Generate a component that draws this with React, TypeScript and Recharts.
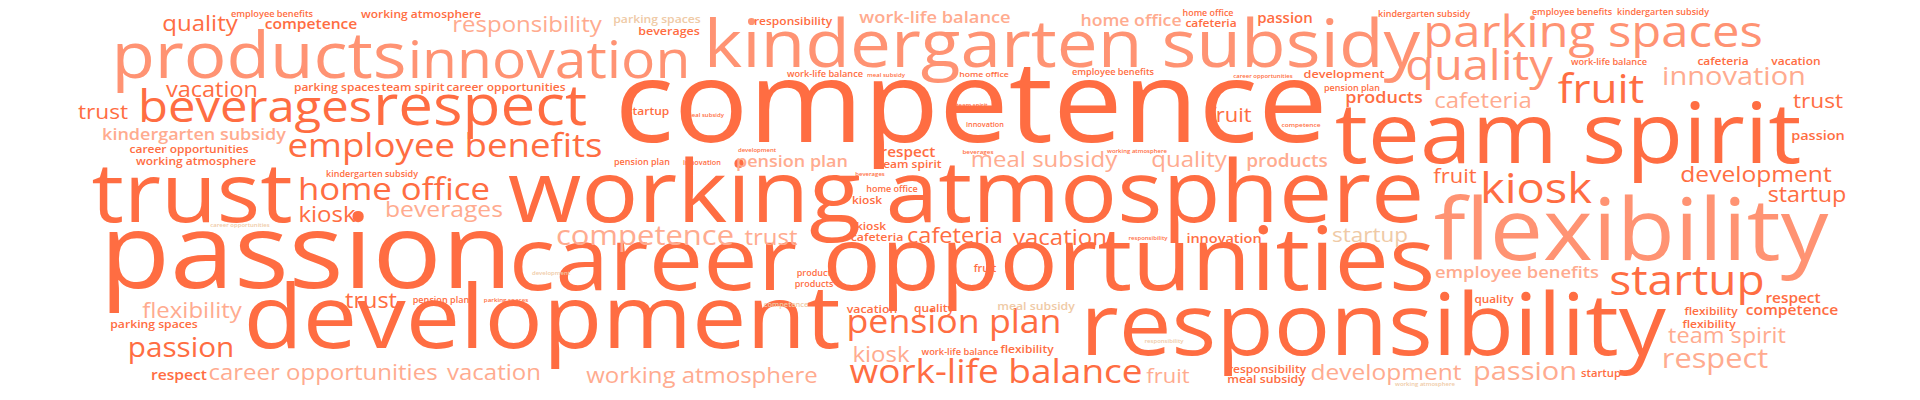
import React from "react";
import { Scatter, ScatterChart, XAxis, YAxis } from "recharts";

// [term, x, y, weight, shade]  x/y are cloud coordinates (px), weight = font size
type Term = [string, number, number, number, number];

const SHADES = ["#ff6d42", "#ff9373", "#ffab8f", "#efcaa6"];
// the original face is wider than Open Sans, so glyphs are widened a little
const STRETCH = 1.1;

const bigTerms: Term[] = [
  ["competence", 971, 142, 124, 0],
  ["passion", 306, 288, 115, 0],
  ["working atmosphere", 966, 222, 95, 0],
  ["career opportunities", 972, 290, 97, 0],
  ["development", 542, 348, 97, 0],
  ["responsibility", 1373, 355, 94, 0],
  ["team spirit", 1568, 163, 93, 0],
  ["flexibility", 1631, 260, 95, 1],
  ["trust", 192, 222, 91, 0],
  ["kindergarten subsidy", 1062, 67, 73, 1],
  ["products", 259, 78, 71, 1],
  ["innovation", 549, 78, 57, 1],
  ["respect", 480, 125, 62, 0],
  ["beverages", 255, 122, 49, 0],
  ["parking spaces", 1593, 47, 49, 1],
  ["quality", 1479, 80, 47, 1],
  ["kiosk", 1536, 203, 47, 0],
  ["startup", 1687, 295, 46, 0],
  ["fruit", 1601, 103, 44, 0],
];

const midTerms: Term[] = [
  ["employee benefits", 445, 157, 36.6, 0],
  ["work-life balance", 996, 383, 37, 0],
  ["pension plan", 954, 333, 35.7, 0],
  ["home office", 394, 200, 34.7, 0],
  ["competence", 645, 245, 31, 2],
  ["trust", 771, 245, 24, 2],
  ["respect", 1715, 368, 30.8, 2],
  ["passion", 181, 357, 29.7, 0],
  ["passion", 1525, 380, 29, 2],
  ["innovation", 1734, 85, 29, 2],
  ["vacation", 212, 97, 23.5, 0],
  ["quality", 200, 31, 24, 0],
  ["responsibility", 527, 32, 24, 2],
  ["cafeteria", 1483, 108, 24, 2],
  ["meal subsidy", 1044, 167, 24, 2],
  ["quality", 1189, 167, 24, 2],
  ["beverages", 444, 217, 24.7, 2],
  ["kiosk", 327, 222, 24, 0],
  ["cafeteria", 955, 243, 23.6, 0],
  ["vacation", 1060, 245, 24, 0],
  ["flexibility", 192, 318, 24, 2],
  ["trust", 371, 308, 23.5, 0],
  ["kiosk", 881, 362, 24, 2],
  ["working atmosphere", 702, 383, 24, 2],
  ["vacation", 494, 380, 24, 2],
  ["career opportunities", 323, 380, 24, 2],
  ["development", 1386, 380, 24.5, 2],
  ["team spirit", 1727, 343, 23.5, 2],
  ["startup", 1370, 242, 22.5, 3],
  ["fruit", 1168, 383, 22, 2],
  ["fruit", 1230, 122, 22, 0],
  ["fruit", 1455, 183, 22, 0],
  ["trust", 103, 119, 22.7, 0],
  ["trust", 1818, 108, 22.7, 0],
  ["development", 1756, 182, 24.6, 0],
  ["startup", 1807, 202, 23.3, 0],
  ["kindergarten subsidy", 194, 140, 18, 2],
  ["employee benefits", 1517, 278, 18.4, 2],
  ["pension plan", 792, 167, 18, 2],
  ["work-life balance", 935, 23, 18.3, 2],
  ["home office", 1131, 26, 17.7, 2],
  ["products", 1384, 103, 18, 0],
  ["products", 1287, 167, 19, 2],
];

const smallTerms: Term[] = [
  ["competence", 311, 29, 15.6, 0],
  ["respect", 908, 157, 15.3, 0],
  ["respect", 179, 380, 15.6, 0],
  ["passion", 1285, 23, 15, 0],
  ["innovation", 1224, 243, 14.5, 0],
  ["passion", 1818, 140, 14.5, 0],
  ["respect", 1793, 303, 15.4, 0],
  ["competence", 1792, 315, 15.6, 0],
  ["development", 1344, 78, 12.7, 0],
  ["working atmosphere", 421, 18, 12, 0],
  ["beverages", 669, 35, 12.5, 0],
  ["responsibility", 793, 25, 12, 0],
  ["cafeteria", 1211, 27, 12, 0],
  ["parking spaces", 657, 23, 12.2, 3],
  ["parking spaces", 337, 91, 12, 0],
  ["team spirit", 413, 91, 12, 0],
  ["career opportunities", 506, 91, 12, 0],
  ["career opportunities", 189, 153, 12, 0],
  ["working atmosphere", 196, 165, 12, 0],
  ["startup", 648, 115, 12, 0],
  ["team spirit", 910, 168, 12, 0],
  ["kiosk", 867, 204, 12, 0],
  ["kiosk", 871, 230, 12, 0],
  ["cafeteria", 877, 241, 12.3, 0],
  ["vacation", 1796, 65, 12, 0],
  ["cafeteria", 1723, 65, 12, 0],
  ["vacation", 872, 313, 12.3, 0],
  ["quality", 934, 312, 12, 0],
  ["meal subsidy", 1036, 310, 12.3, 3],
  ["flexibility", 1027, 353, 12, 0],
  ["responsibility", 1267, 373, 12, 0],
  ["meal subsidy", 1266, 383, 12.3, 0],
  ["quality", 1494, 303, 11.8, 0],
  ["flexibility", 1711, 315, 12, 0],
  ["flexibility", 1709, 328, 12, 0],
  ["startup", 1601, 377, 11.3, 0],
  ["parking spaces", 154, 328, 12.2, 0],
  ["fruit", 985, 272, 10.8, 0],
  ["employee benefits", 272, 17, 9.2, 0],
  ["home office", 1208, 16, 8.9, 0],
  ["kindergarten subsidy", 1424, 17, 9, 0],
  ["employee benefits", 1572, 15, 9, 0],
  ["kindergarten subsidy", 1663, 15, 9, 0],
  ["work-life balance", 1609, 65, 9.2, 0],
  ["work-life balance", 825, 77, 9.2, 0],
  ["home office", 984, 77, 8.7, 0],
  ["employee benefits", 1113, 75, 9.2, 0],
  ["pension plan", 1352, 91, 9, 0],
  ["kindergarten subsidy", 372, 177, 9, 0],
  ["pension plan", 642, 165, 9, 0],
  ["home office", 892, 192, 9, 0],
  ["products", 816, 276, 9, 0],
  ["products", 814, 287, 9, 0],
  ["work-life balance", 960, 355, 9.3, 0],
  ["pension plan", 441, 303, 9.1, 0],
];

const tinyTerms: Term[] = [
  ["meal subsidy", 705, 117, 6, 0],
  ["meal subsidy", 886, 77, 6, 0],
  ["career opportunities", 1263, 78, 6, 0],
  ["team spirit", 972, 107, 6, 0],
  ["innovation", 985, 127, 7.3, 0],
  ["competence", 1301, 127, 6.6, 0],
  ["development", 757, 152, 6, 0],
  ["beverages", 978, 154, 6.3, 0],
  ["working atmosphere", 1137, 153, 6, 0],
  ["innovation", 702, 165, 7.3, 0],
  ["beverages", 870, 176, 6, 0],
  ["responsibility", 1148, 240, 6, 0],
  ["career opportunities", 240, 227, 6, 3],
  ["development", 551, 275, 6, 3],
  ["parking spaces", 506, 302, 6.2, 0],
  ["competence", 786, 307, 7.5, 3],
  ["responsibility", 1164, 343, 6, 3],
  ["working atmosphere", 1425, 386, 6, 3],
];

const toRows = (terms: Term[]) =>
  terms.map(([text, x, y, weight, shade]) => ({ text, x, y, weight, shade }));

const WordShape = (props: any) => {
  const { cx, cy, payload } = props;
  if (cx == null || cy == null) return null;
  const size = payload.weight;
  return (
    <text
      transform={`translate(${cx},${cy}) scale(${STRETCH},1)`}
      textAnchor="middle"
      fontFamily="'Open Sans', sans-serif"
      fontSize={size / STRETCH}
      fontWeight={size < 20 ? 600 : 400}
      fill={SHADES[payload.shade]}
    >
      {payload.text}
    </text>
  );
};

export default function App() {
  const series = [bigTerms, midTerms, smallTerms, tinyTerms];
  return (
    <div style={{ position: "absolute", left: 0, top: 0, background: "#fff" }}>
      <ScatterChart
        width={1920}
        height={400}
        margin={{ top: 0, right: 0, bottom: 0, left: 0 }}
      >
        <XAxis type="number" dataKey="x" domain={[0, 1920]} hide />
        <YAxis type="number" dataKey="y" domain={[0, 400]} reversed hide />
        {series.map((terms, i) => (
          <Scatter
            key={i}
            data={toRows(terms)}
            shape={WordShape}
            isAnimationActive={false}
          />
        ))}
      </ScatterChart>
    </div>
  );
}
